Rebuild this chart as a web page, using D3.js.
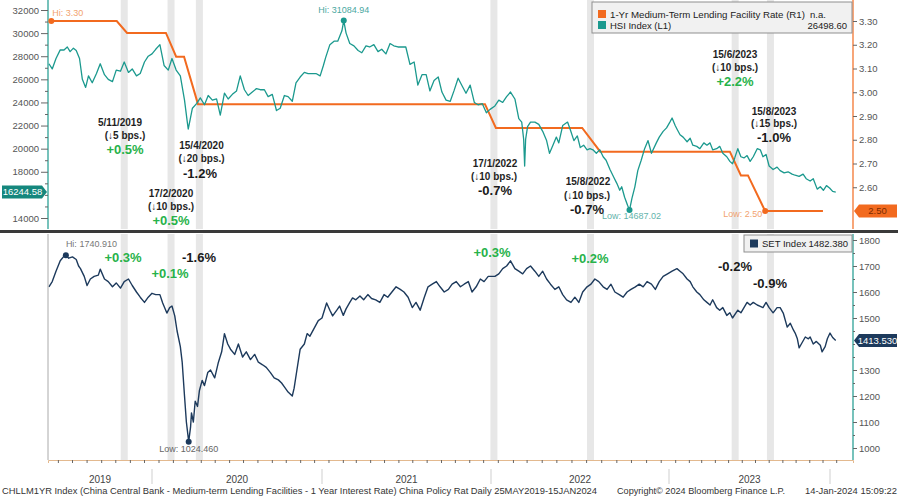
<!DOCTYPE html>
<html>
<head>
<meta charset="utf-8">
<title>MLF rate cuts vs HSI and SET</title>
<style>
  body { margin: 0; background: #fff; }
  svg { display: block; font-family: "Liberation Sans", Arial, sans-serif; }
  .axis text { font-size: 9.5px; fill: #555; }
  .axis line { stroke: #666; }
  .note-date { font-size: 10px; font-weight: bold; fill: #1e1e1e; text-anchor: middle; }
  .note-pct { font-size: 13px; font-weight: bold; text-anchor: middle; }
  .up { fill: #27b24a; }
  .down { fill: #1a1a1a; }
  .extreme { font-size: 9px; }
  .legend text { font-size: 9.5px; fill: #222; }
  .foot { font-size: 9.3px; fill: #333; }
</style>
</head>
<body>
<svg id="chart" width="898" height="496"></svg>

<script src="https://d3js.org/d3.v7.min.js"></script>
<script>
// ---- data ----
const hsiSeries = [
  ['2019-05-27',27350],['2019-06-03',26900],['2019-06-11',27800],['2019-06-20',28550],['2019-06-28',28540],
  ['2019-07-05',28800],['2019-07-11',28400],['2019-07-18',28700],['2019-07-24',28500],['2019-07-31',27800],
  ['2019-08-06',26000],['2019-08-13',25300],['2019-08-19',26300],['2019-08-27',25700],['2019-09-05',26500],
  ['2019-09-13',27350],['2019-09-22',26400],['2019-09-30',26000],['2019-10-09',25800],['2019-10-17',26800],
  ['2019-10-26',26700],['2019-11-03',27500],['2019-11-12',26600],['2019-11-20',26900],['2019-11-29',26300],
  ['2019-12-07',26500],['2019-12-16',27500],['2019-12-24',28000],['2020-01-01',28200],['2020-01-09',28600],
  ['2020-01-18',29000],['2020-01-27',27200],['2020-02-05',26800],['2020-02-13',27800],['2020-02-22',26800],
  ['2020-03-02',26300],['2020-03-11',24200],['2020-03-17',22300],['2020-03-19',21700],['2020-03-23',22500],
  ['2020-03-28',23500],['2020-04-06',23900],['2020-04-14',24400],['2020-04-23',23800],['2020-05-01',24600],
  ['2020-05-10',24200],['2020-05-19',24300],['2020-05-27',22900],['2020-06-05',24800],['2020-06-13',24300],
  ['2020-06-22',24700],['2020-07-01',25000],['2020-07-09',26300],['2020-07-18',25100],['2020-07-26',24600],
  ['2020-08-04',24900],['2020-08-13',25200],['2020-08-21',25100],['2020-08-30',25100],['2020-09-07',24500],
  ['2020-09-16',24700],['2020-09-25',23300],['2020-10-03',23500],['2020-10-12',24600],['2020-10-20',24500],
  ['2020-10-29',24100],['2020-11-06',25700],['2020-11-15',26200],['2020-11-24',26600],['2020-12-02',26500],
  ['2020-12-11',26500],['2020-12-19',26500],['2020-12-28',26300],['2021-01-04',27200],['2021-01-09',27900],
  ['2021-01-18',29000],['2021-01-27',29300],['2021-02-04',29300],['2021-02-13',30200],['2021-02-17',31085],
  ['2021-02-22',30000],['2021-03-02',29100],['2021-03-11',28900],['2021-03-20',28500],['2021-03-28',28300],
  ['2021-04-06',28900],['2021-04-14',28800],['2021-04-23',29000],['2021-05-02',28400],['2021-05-10',28600],
  ['2021-05-19',28200],['2021-05-28',29100],['2021-06-05',28900],['2021-06-14',28800],['2021-06-23',28800],
  ['2021-07-01',28800],['2021-07-10',27300],['2021-07-19',27500],['2021-07-27',25500],['2021-08-05',26400],
  ['2021-08-14',26400],['2021-08-22',25000],['2021-08-31',25900],['2021-09-09',26200],['2021-09-17',24900],
  ['2021-09-26',24200],['2021-10-05',24100],['2021-10-13',25000],['2021-10-22',26100],['2021-10-31',25400],
  ['2021-11-08',24800],['2021-11-17',25500],['2021-11-26',24000],['2021-12-04',23800],['2021-12-13',23900],
  ['2021-12-22',23100],['2021-12-30',23400],['2022-01-09',23700],['2022-01-17',24200],['2022-01-25',24000],
  ['2022-02-02',24500],['2022-02-10',24900],['2022-02-19',24300],['2022-02-27',22600],['2022-03-05',22300],
  ['2022-03-09',20800],['2022-03-11',18500],['2022-03-13',20800],['2022-03-17',21900],['2022-03-23',22300],
  ['2022-04-01',22300],['2022-04-09',22100],['2022-04-17',21500],['2022-04-25',20700],['2022-05-01',19600],
  ['2022-05-08',20300],['2022-05-15',21000],['2022-05-20',20500],['2022-05-28',22000],['2022-06-07',22300],
  ['2022-06-13',21600],['2022-06-20',20700],['2022-06-27',21100],['2022-07-03',20100],['2022-07-10',20300],
  ['2022-07-17',19900],['2022-07-23',20000],['2022-07-29',19900],['2022-08-05',19600],['2022-08-12',19900],
  ['2022-08-19',19300],['2022-08-25',19000],['2022-09-02',18200],['2022-09-10',17500],['2022-09-16',17000],
  ['2022-09-22',16400],['2022-09-26',16700],['2022-10-02',15800],['2022-10-08',15100],['2022-10-12',14687],
  ['2022-10-17',15700],['2022-10-23',16700],['2022-10-29',18100],['2022-11-05',19000],['2022-11-12',20000],
  ['2022-11-19',20700],['2022-11-26',19600],['2022-12-06',20500],['2022-12-12',21000],['2022-12-20',21500],
  ['2022-12-27',21800],['2023-01-03',22300],['2023-01-08',22650],['2023-01-15',22000],['2023-01-19',21700],
  ['2023-01-26',21200],['2023-02-02',21000],['2023-02-11',20600],['2023-02-18',20900],['2023-02-24',20300],
  ['2023-03-05',20200],['2023-03-12',20000],['2023-03-21',20500],['2023-03-28',20300],['2023-04-04',20500],
  ['2023-04-10',19900],['2023-04-19',20000],['2023-04-26',20200],['2023-05-03',19600],['2023-05-12',19300],
  ['2023-05-19',18900],['2023-05-25',18700],['2023-05-30',19200],['2023-06-06',20000],['2023-06-13',19300],
  ['2023-06-20',19200],['2023-06-27',19400],['2023-07-04',18900],['2023-07-11',19300],['2023-07-20',20000],
  ['2023-07-27',19900],['2023-08-02',19300],['2023-08-09',19500],['2023-08-16',18500],['2023-08-25',18200],
  ['2023-09-03',18400],['2023-09-10',18100],['2023-09-19',17900],['2023-09-28',18000],['2023-10-07',17800],
  ['2023-10-14',17700],['2023-10-23',17600],['2023-11-01',17800],['2023-11-08',17400],['2023-11-17',17200],
  ['2023-11-24',17400],['2023-12-03',16500],['2023-12-10',16700],['2023-12-17',16400],['2023-12-24',16800],
  ['2023-12-31',16600],['2024-01-07',16300],['2024-01-14',16244.58]
];

const setSeries = [
  ['2019-05-27',1620],['2019-06-03',1640],['2019-06-11',1680],['2019-06-20',1720],['2019-06-28',1738],
  ['2019-07-02',1740.91],['2019-07-08',1730],['2019-07-16',1735],['2019-07-24',1725],['2019-07-29',1700],
  ['2019-08-02',1690],['2019-08-10',1660],['2019-08-16',1625],['2019-08-23',1650],['2019-08-31',1660],
  ['2019-09-09',1665],['2019-09-13',1688],['2019-09-22',1650],['2019-09-30',1640],['2019-10-09',1620],
  ['2019-10-17',1635],['2019-10-26',1615],['2019-11-03',1640],['2019-11-12',1650],['2019-11-20',1625],
  ['2019-11-29',1600],['2019-12-07',1580],['2019-12-16',1560],['2019-12-24',1580],['2020-01-01',1595],
  ['2020-01-09',1590],['2020-01-18',1590],['2020-01-24',1558],['2020-02-02',1519],['2020-02-08',1540],
  ['2020-02-13',1546],['2020-02-19',1508],['2020-02-24',1450],['2020-03-02',1390],['2020-03-06',1330],
  ['2020-03-11',1200],['2020-03-15',1100],['2020-03-20',1024.46],['2020-03-24',1080],['2020-03-26',1135],
  ['2020-03-30',1100],['2020-04-03',1180],['2020-04-08',1160],['2020-04-12',1220],['2020-04-18',1260],
  ['2020-04-23',1240],['2020-04-30',1290],['2020-05-06',1300],['2020-05-15',1270],['2020-05-23',1330],
  ['2020-05-30',1370],['2020-06-05',1440],['2020-06-12',1400],['2020-06-18',1380],['2020-06-27',1360],
  ['2020-07-05',1400],['2020-07-14',1350],['2020-07-22',1370],['2020-07-31',1340],['2020-08-09',1360],
  ['2020-08-17',1330],['2020-08-26',1320],['2020-09-03',1310],['2020-09-12',1290],['2020-09-20',1270],
  ['2020-09-29',1262],['2020-10-06',1250],['2020-10-12',1235],['2020-10-20',1215],['2020-10-29',1200],
  ['2020-11-02',1230],['2020-11-08',1300],['2020-11-15',1380],['2020-11-24',1400],['2020-11-30',1440],
  ['2020-12-06',1430],['2020-12-15',1460],['2020-12-24',1490],['2021-01-01',1500],['2021-01-11',1558],
  ['2021-01-18',1530],['2021-01-24',1508],['2021-02-02',1530],['2021-02-08',1546],['2021-02-16',1510],
  ['2021-02-22',1535],['2021-03-02',1560],['2021-03-08',1577],['2021-03-15',1570],['2021-03-24',1585],
  ['2021-04-01',1570],['2021-04-10',1590],['2021-04-18',1575],['2021-04-27',1570],['2021-05-06',1560],
  ['2021-05-15',1590],['2021-05-23',1580],['2021-06-01',1600],['2021-06-10',1620],['2021-06-19',1610],
  ['2021-06-27',1600],['2021-07-06',1580],['2021-07-15',1540],['2021-07-23',1560],['2021-08-01',1530],
  ['2021-08-10',1580],['2021-08-18',1620],['2021-08-27',1630],['2021-09-05',1640],['2021-09-13',1620],
  ['2021-09-22',1600],['2021-10-01',1610],['2021-10-09',1630],['2021-10-18',1640],['2021-10-27',1620],
  ['2021-11-04',1630],['2021-11-13',1640],['2021-11-21',1600],['2021-11-30',1620],['2021-12-09',1650],
  ['2021-12-17',1640],['2021-12-26',1660],['2022-01-09',1660],['2022-01-17',1670],['2022-01-25',1690],
  ['2022-02-02',1700],['2022-02-10',1720],['2022-02-19',1690],['2022-02-27',1680],['2022-03-07',1670],
  ['2022-03-15',1690],['2022-03-23',1700],['2022-04-01',1680],['2022-04-09',1660],['2022-04-17',1680],
  ['2022-04-25',1650],['2022-05-03',1630],['2022-05-12',1610],['2022-05-20',1620],['2022-05-28',1590],
  ['2022-06-05',1570],['2022-06-14',1560],['2022-06-22',1580],['2022-06-30',1560],['2022-07-08',1600],
  ['2022-07-17',1620],['2022-07-25',1630],['2022-08-02',1650],['2022-08-10',1640],['2022-08-19',1620],
  ['2022-08-27',1610],['2022-09-04',1630],['2022-09-12',1600],['2022-09-21',1590],['2022-09-29',1580],
  ['2022-10-07',1600],['2022-10-15',1610],['2022-10-24',1620],['2022-11-01',1630],['2022-11-09',1620],
  ['2022-11-17',1640],['2022-11-26',1630],['2022-12-04',1610],['2022-12-12',1640],['2022-12-20',1660],
  ['2022-12-29',1670],['2023-01-08',1680],['2023-01-19',1690],['2023-01-26',1680],['2023-02-02',1670],
  ['2023-02-11',1650],['2023-02-18',1640],['2023-02-24',1620],['2023-03-05',1600],['2023-03-12',1590],
  ['2023-03-21',1570],['2023-03-28',1560],['2023-04-04',1550],['2023-04-10',1570],['2023-04-19',1540],
  ['2023-04-26',1530],['2023-05-03',1540],['2023-05-12',1510],['2023-05-19',1520],['2023-05-25',1500],
  ['2023-06-06',1530],['2023-06-13',1520],['2023-06-20',1540],['2023-06-27',1560],['2023-07-04',1550],
  ['2023-07-11',1560],['2023-07-20',1550],['2023-07-27',1545],['2023-08-02',1540],['2023-08-09',1560],
  ['2023-08-16',1540],['2023-08-25',1520],['2023-09-03',1540],['2023-09-10',1540],['2023-09-17',1519],
  ['2023-09-26',1465],['2023-10-03',1480],['2023-10-10',1454],['2023-10-14',1442],['2023-10-19',1420],
  ['2023-10-23',1385],['2023-10-28',1400],['2023-11-06',1427],['2023-11-13',1420],['2023-11-17',1427],
  ['2023-11-24',1400],['2023-12-01',1410],['2023-12-10',1395],['2023-12-14',1370],['2023-12-21',1390],
  ['2023-12-26',1420],['2024-01-01',1442],['2024-01-07',1425],['2024-01-14',1413.53]
];

const mlfSeries = [
  ['2019-06-01',3.30],['2019-10-18',3.30],['2019-11-09',3.25],['2020-01-31',3.25],['2020-02-22',3.15],
  ['2020-03-10',3.15],['2020-04-09',2.95],['2021-12-19',2.95],['2022-01-11',2.85],['2022-07-07',2.85],
  ['2022-08-13',2.75],['2023-05-19',2.75],['2023-06-13',2.65],['2023-06-29',2.65],['2023-08-07',2.50],
  ['2023-12-16',2.50]
];

// rate-cut shading (centres as drawn) and their notes
const bandDates = ['2019-11-03','2020-02-11','2020-04-12','2022-01-07','2022-07-24','2023-05-31','2023-08-19'];
const cutDates = ['5/11/2019','17/2/2020','15/4/2020','17/1/2022','15/8/2022','15/6/2023','15/8/2023'];
const cutBps = [5, 10, 20, 10, 10, 10, 15];
const hsiMoves = ['+0.5%','+0.5%','-1.2%','-0.7%','-0.7%','+2.2%','-1.0%'];
const setMoves = ['+0.3%','+0.1%','-1.6%','+0.3%','+0.2%','-0.2%','-0.9%'];

const hsiTicks = [14000,18000,20000,22000,24000,26000,28000,30000,32000];
const mlfTicks = [2.6,2.7,2.8,2.9,3.0,3.1,3.2,3.3];
const setTicks = [1000,1100,1200,1300,1500,1600,1700,1800];
const yearLabels = ['2019','2020','2021','2022','2023'];
const yearStarts = ['2020-01-01','2021-01-01','2022-01-01','2023-01-01','2024-01-01'];

// ---- layout ----
const parse = d3.timeParse('%Y-%m-%d');
const hsi = hsiSeries.map(d => ({ date: parse(d[0]), v: d[1] }));
const set = setSeries.map(d => ({ date: parse(d[0]), v: d[1] }));
const mlf = mlfSeries.map(d => ({ date: parse(d[0]), v: d[1] }));

const C = { hsi: '#1b998e', mlf: '#f26a1f', set: '#1d3a5c', band: '#e7e7e7' };

const svg = d3.select('#chart');
const L = 48, R = 853;
const topPanel = { y0: 0, y1: 229 };
const botPanel = { y0: 234, y1: 460 };

// Bloomberg axis is not quite linear per year, so anchor on each year boundary
const x = d3.scaleTime()
  .domain(['2019-05-25','2020-01-01','2021-01-01','2022-01-01','2023-01-01','2024-01-01','2024-02-22'].map(parse))
  .range([L, 152, 322, 491, 669, 830, R]);
const yHSI = d3.scaleLinear().domain([14000, 32000]).range([218, 10]);
const yMLF = d3.scaleLinear().domain([2.5, 3.3]).range([211, 21]);
const ySET = d3.scaleLinear().domain([1000, 1800]).range([448, 240]);

// shaded bands
[topPanel, botPanel].forEach(p => {
  svg.append('g').selectAll('rect').data(bandDates).enter().append('rect')
    .attr('x', d => x(parse(d)) - 3.5).attr('width', 7)
    .attr('y', p.y0).attr('height', p.y1 - p.y0)
    .attr('fill', C.band);
});

// lines
const line = (yScale) => d3.line().x(d => x(d.date)).y(d => yScale(d.v));
svg.append('path').datum(mlf).attr('d', line(yMLF))
  .attr('fill', 'none').attr('stroke', C.mlf).attr('stroke-width', 2);
svg.append('path').datum(hsi).attr('d', line(yHSI))
  .attr('fill', 'none').attr('stroke', C.hsi).attr('stroke-width', 1.3).attr('stroke-linejoin', 'round');
svg.append('path').datum(set).attr('d', line(ySET))
  .attr('fill', 'none').attr('stroke', C.set).attr('stroke-width', 1.4).attr('stroke-linejoin', 'round');

// axes
function styleAxis(g, color) {
  g.select('.domain').attr('stroke', color).attr('stroke-width', 1.2);
  g.selectAll('.tick line').attr('stroke', '#666');
}
const aL = svg.append('g').attr('class', 'axis').attr('transform', `translate(${L},0)`)
  .call(d3.axisLeft(yHSI).tickValues(hsiTicks).tickSize(7).tickPadding(2).tickFormat(d3.format('d')));
styleAxis(aL, C.hsi);
aL.select('.domain').attr('d', `M0,${topPanel.y0}V${topPanel.y1}`);
svg.append('g').attr('class', 'axis').attr('transform', `translate(${L},0)`)
  .call(d3.axisLeft(yHSI).tickValues(d3.range(15000, 32000, 2000).concat([16000])).tickSize(3).tickFormat(''))
  .call(g => g.select('.domain').remove());

const aR = svg.append('g').attr('class', 'axis').attr('transform', `translate(${R},0)`)
  .call(d3.axisRight(yMLF).tickValues(mlfTicks).tickSize(4).tickPadding(2).tickFormat(d3.format('.2f')));
styleAxis(aR, C.mlf);
aR.select('.domain').attr('d', `M0,${topPanel.y0}V${topPanel.y1}`);

const aS = svg.append('g').attr('class', 'axis').attr('transform', `translate(${R},0)`)
  .call(d3.axisRight(ySET).tickValues(setTicks).tickSize(4).tickPadding(2).tickFormat(d3.format('d')));
styleAxis(aS, C.hsi);
aS.select('.domain').attr('d', `M0,${botPanel.y0}V${botPanel.y1}`);
svg.append('g').attr('class', 'axis').attr('transform', `translate(${R},0)`)
  .call(d3.axisRight(ySET).tickValues(d3.range(1050, 1800, 100).concat([1400])).tickSize(2).tickFormat(''))
  .call(g => g.select('.domain').remove());

svg.append('line').attr('x1', L).attr('x2', L).attr('y1', botPanel.y0).attr('y2', botPanel.y1)
  .attr('stroke', '#aaa');

// time axis with mid-month ticks
const months = d3.timeMonth.range(parse('2019-06-01'), parse('2024-02-01'))
  .map(m => new Date(m.getFullYear(), m.getMonth(), 15));
const aX = svg.append('g').attr('class', 'axis').attr('transform', `translate(0,${botPanel.y1})`)
  .call(d3.axisBottom(x).tickValues(months).tickSize(3).tickFormat(''));
aX.select('.domain').attr('stroke', '#e3b98f');
aX.selectAll('.tick line').attr('stroke', '#d9a675');

const bounds = [x.domain()[0]].concat(yearStarts.map(parse));
svg.append('g').selectAll('line').data(yearStarts).enter().append('line')
  .attr('x1', d => x(parse(d))).attr('x2', d => x(parse(d)))
  .attr('y1', 469).attr('y2', 484).attr('stroke', '#cfcfcf');
svg.append('g').selectAll('text').data(yearLabels).enter().append('text')
  .attr('x', (d, i) => (x(bounds[i]) + x(bounds[i + 1])) / 2).attr('y', 483)
  .attr('text-anchor', 'middle').attr('font-size', 10).attr('fill', '#444').text(d => d);

// panel divider
svg.append('rect').attr('x', 0).attr('y', 230).attr('width', 898).attr('height', 3).attr('fill', '#3a3a3a');

// hi / low markers
function marker(px, py, color, label, lx, ly, lcolor, anchor) {
  svg.append('circle').attr('cx', px).attr('cy', py).attr('r', 3).attr('fill', color);
  svg.append('text').attr('class', 'extreme').attr('x', lx).attr('y', ly)
    .attr('text-anchor', anchor).attr('fill', lcolor).text(label);
}
const hsiHi = d3.greatest(hsi, d => d.v), hsiLo = d3.least(hsi, d => d.v);
const setHi = d3.greatest(set, d => d.v), setLo = d3.least(set, d => d.v);
const mlfHi = mlf[0], mlfLo = mlf[mlf.length - 2];
marker(x(mlfHi.date), yMLF(mlfHi.v), C.mlf, 'Hi: 3.30', x(mlfHi.date) + 1, 16, '#f2a370', 'start');
marker(x(mlfLo.date), yMLF(mlfLo.v), C.mlf, 'Low: 2.50', x(mlfLo.date) - 3, 217, '#f2a370', 'end');
marker(x(hsiHi.date), yHSI(hsiHi.v), C.hsi, 'Hi: 31084.94', x(hsiHi.date), 13, '#4aa89f', 'middle');
marker(x(hsiLo.date), yHSI(hsiLo.v), C.hsi, 'Low: 14687.02', x(hsiLo.date) + 2, 219, '#63b3ab', 'middle');
marker(x(setHi.date), ySET(setHi.v), C.set, 'Hi: 1740.910', x(setHi.date), 247, '#777', 'start');
marker(x(setLo.date), ySET(setLo.v), C.set, 'Low: 1024.460', x(setLo.date), 452, '#666', 'middle');

// last-value tags
function tag(x0, x1, cy, fill, color, label, pointRight) {
  const h = 6.5;
  const pts = pointRight
    ? [[x0, cy - h], [x1 - 5, cy - h], [x1, cy], [x1 - 5, cy + h], [x0, cy + h]]
    : [[x0, cy], [x0 + 5, cy - h], [x1, cy - h], [x1, cy + h], [x0 + 5, cy + h]];
  svg.append('path').attr('d', 'M' + pts.join('L') + 'Z').attr('fill', fill);
  svg.append('text').attr('x', (x0 + x1) / 2 + (pointRight ? -2 : 2)).attr('y', cy + 3.3)
    .attr('text-anchor', 'middle').attr('font-size', 9.5).attr('fill', color).text(label);
}
tag(2, L - 1, yHSI(hsi[hsi.length - 1].v), '#15877d', '#fff', '16244.58', true);
tag(R + 1, 897, yMLF(2.5), '#f26a1f', '#7a2a00', '2.50', false);
tag(R + 1, 897, ySET(set[set.length - 1].v), C.set, '#fff', '1413.530', false);

// legends
const lg = svg.append('g').attr('class', 'legend');
lg.append('rect').attr('x', 592).attr('y', 2).attr('width', 260).attr('height', 31)
  .attr('fill', '#f1f1f1').attr('stroke', '#8f8f8f');
lg.append('rect').attr('x', 598).attr('y', 10).attr('width', 8).attr('height', 8).attr('fill', C.mlf);
lg.append('rect').attr('x', 598).attr('y', 21).attr('width', 8).attr('height', 8).attr('fill', C.hsi);
lg.append('text').attr('x', 610).attr('y', 17.5).attr('textLength', 195).attr('lengthAdjust', 'spacingAndGlyphs')
  .text('1-Yr Medium-Term Lending Facility Rate (R1)');
lg.append('text').attr('x', 810).attr('y', 17.5).text('n.a.');
lg.append('text').attr('x', 610).attr('y', 28.5).text('HSI Index (L1)');
lg.append('text').attr('x', 847).attr('y', 28.5).attr('text-anchor', 'end').text('26498.60');

lg.append('rect').attr('x', 744).attr('y', 235).attr('width', 108).attr('height', 17)
  .attr('fill', '#f1f1f1').attr('stroke', '#8f8f8f');
lg.append('rect').attr('x', 750).attr('y', 239.5).attr('width', 8).attr('height', 8).attr('fill', C.set);
lg.append('text').attr('x', 762).attr('y', 247).text('SET Index');
lg.append('text').attr('x', 848).attr('y', 247).attr('text-anchor', 'end').text('1482.380');

// notes: [date x, date y, bps x, bps y, pct x, pct y] centres for each cut
const notePos = [
  [120, 122, 125, 135, 125, 149.5],
  [171, 193, 171, 206, 171, 220.5],
  [201.5, 145, 201.5, 158, 200, 173],
  [495, 163, 494, 176, 495, 190.5],
  [588, 181.5, 587, 195, 587, 209],
  [735, 54, 735, 67, 735, 81.5],
  [774, 111.5, 774, 123.5, 774, 137.5]
];
const setNotePos = [[123, 257], [170, 273], [199, 257], [492, 252], [590, 258], [735, 266], [770, 283]];

const notes = svg.append('g');
cutDates.forEach((d, i) => {
  const p = notePos[i];
  notes.append('text').attr('class', 'note-date').attr('x', p[0]).attr('y', p[1]).attr('dy', '0.35em').text(d);
  notes.append('text').attr('class', 'note-date').attr('x', p[2]).attr('y', p[3]).attr('dy', '0.35em')
    .text(`(\u2193${cutBps[i]} bps.)`);
  notes.append('text').attr('class', 'note-pct ' + (hsiMoves[i][0] === '+' ? 'up' : 'down'))
    .attr('x', p[4]).attr('y', p[5]).attr('dy', '0.35em').text(hsiMoves[i]);
  notes.append('text').attr('class', 'note-pct ' + (setMoves[i][0] === '+' ? 'up' : 'down'))
    .attr('x', setNotePos[i][0]).attr('y', setNotePos[i][1]).attr('dy', '0.35em').text(setMoves[i]);
});

// footer
svg.append('text').attr('class', 'foot').attr('x', 2).attr('y', 493.5)
  .attr('textLength', 595).attr('lengthAdjust', 'spacingAndGlyphs')
  .text('CHLLM1YR Index (China Central Bank - Medium-term Lending Facilities - 1 Year Interest Rate) China Policy Rat  Daily 25MAY2019-15JAN2024');
svg.append('text').attr('class', 'foot').attr('x', 617).attr('y', 493.5)
  .attr('textLength', 168).attr('lengthAdjust', 'spacingAndGlyphs')
  .text('Copyright\u00a9 2024 Bloomberg Finance L.P.');
svg.append('text').attr('class', 'foot').attr('x', 805).attr('y', 493.5)
  .attr('textLength', 92).attr('lengthAdjust', 'spacingAndGlyphs')
  .text('14-Jan-2024 15:09:22');
</script>
</body>
</html>
